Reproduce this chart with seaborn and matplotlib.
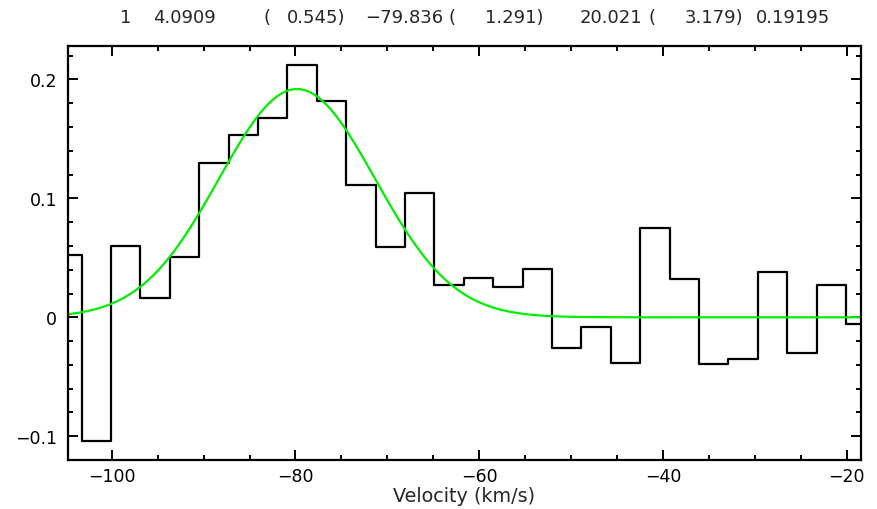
import numpy as np
import pandas as pd
import matplotlib
matplotlib.use("Agg")
import matplotlib.pyplot as plt
from matplotlib.ticker import FixedLocator, MultipleLocator, FixedFormatter
import seaborn as sns

# ---- data ----
velocity = [-104.87, -101.67, -98.47, -95.27, -92.07, -88.87, -85.67, -82.47,
            -79.27, -76.07, -72.87, -69.67, -66.47, -63.27, -60.07, -56.87,
            -53.67, -50.47, -47.27, -44.07, -40.87, -37.67, -34.47, -31.27,
            -28.07, -24.87, -21.67, -18.47]
intensity = [0.0524, -0.1038, 0.0602, 0.0160, 0.0510, 0.1298, 0.1533, 0.1673,
             0.2125, 0.1817, 0.1115, 0.0594, 0.1045, 0.0274, 0.0331, 0.0257,
             0.0404, -0.0261, -0.0082, -0.0384, 0.0751, 0.0320, -0.0390, -0.0348,
             0.0384, -0.0298, 0.0269, -0.0056]

# Gaussian fit parameters (as printed in the header)
fit_area = 4.0909
fit_center = -79.836
fit_fwhm = 20.021
fit_peak = 0.19195

header_parts = [("1", 120), ("4.0909", 153), ("(", 264), ("0.545)", 287),
                ("\u221279.836", 365), ("(", 448), ("1.291)", 485),
                ("20.021", 580), ("(", 648), ("3.179)", 685), ("0.19195", 756)]

xticks_major = [-100, -80, -60, -40, -20]
xtick_labels = ["\u2212100", "\u221280", "\u221260", "\u221240", "\u221220"]
yticks_major = [-0.1, 0.0, 0.1, 0.2]
ytick_labels = ["\u22120.1", "0", "0.1", "0.2"]
xlabel = "Velocity (km/s)"

# ---- plotting ----
sns.set_style("ticks")
plt.rcParams["font.family"] = ["DejaVu Sans"]

FS = 12.5
W, H = 878, 510
fig = plt.figure(figsize=(W / 100, H / 100), dpi=100)
ax = fig.add_axes([68 / W, 1 - 461 / H, (860.7 - 68) / W, (461 - 47.3) / H])

xmin, xmax = -104.76, -18.48
df = pd.DataFrame({"v": velocity, "T": intensity})
sns.lineplot(data=df, x="v", y="T", ax=ax, color="black", lw=1.6,
             drawstyle="steps-mid", estimator=None, sort=True)

sigma = fit_fwhm / (2 * np.sqrt(2 * np.log(2)))
vfit = np.linspace(xmin, xmax, 600)
tfit = fit_peak * np.exp(-0.5 * ((vfit - fit_center) / sigma) ** 2)
sns.lineplot(x=vfit, y=tfit, ax=ax, color="#00ee00", lw=1.6, estimator=None)

ax.set_xlim(xmin, xmax)
ax.set_ylim(-0.12, 0.2279)

ax.xaxis.set_major_locator(FixedLocator(xticks_major))
ax.xaxis.set_major_formatter(FixedFormatter(xtick_labels))
ax.xaxis.set_minor_locator(MultipleLocator(5))
ax.yaxis.set_major_locator(FixedLocator(yticks_major))
ax.yaxis.set_major_formatter(FixedFormatter(ytick_labels))
ax.yaxis.set_minor_locator(MultipleLocator(0.02))

ax.tick_params(which="both", direction="in", top=True, right=True,
               width=1.4, colors="black", labelsize=FS)
ax.tick_params(which="major", length=7.2)
ax.tick_params(which="minor", length=3.8)
ax.tick_params(axis="x", which="major", pad=5)
ax.tick_params(axis="y", which="major", pad=8)
for s in ax.spines.values():
    s.set_visible(True)
    s.set_linewidth(1.6)
    s.set_color("black")

ax.set_xlabel(xlabel, fontsize=13.8, labelpad=0.5)
ax.set_ylabel("")

for txt, xp in header_parts:
    fig.text(xp / W, 1 - 18 / H, txt, ha="left", va="center", fontsize=13)

fig.savefig("out.png", dpi=100)
